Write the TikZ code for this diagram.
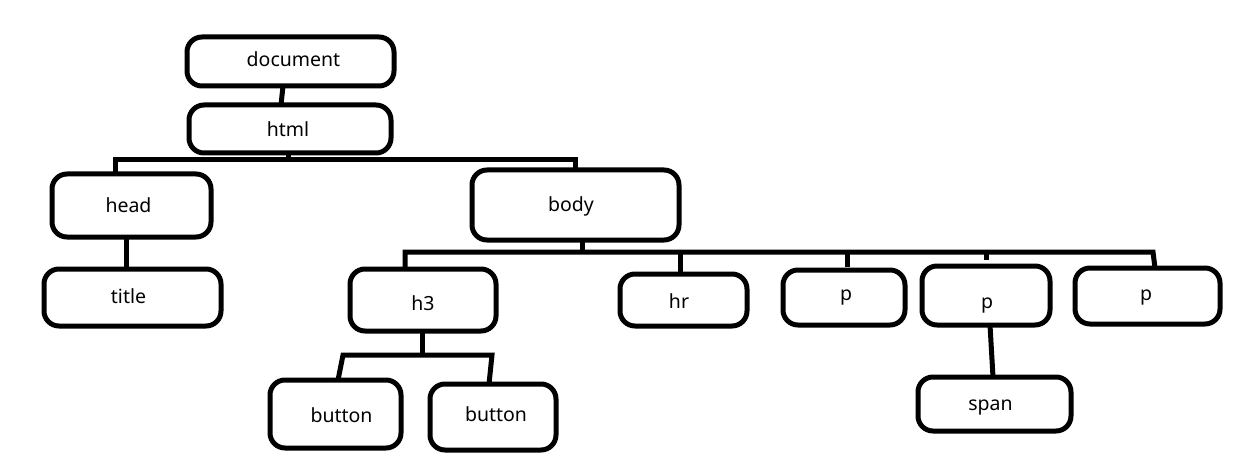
\documentclass[tikz,border=0pt]{standalone}
\usepackage{fontspec}
\setmainfont{Noto Sans}
\begin{document}
\begin{tikzpicture}[x=1pt,y=-1pt,
  box/.style={draw=black, line width=5pt, rounded corners=15pt, inner sep=0pt, outer sep=0pt, fill=none},
  lbl/.style={anchor=base, inner sep=0pt, font=\fontsize{19.5pt}{23pt}\selectfont},
  conn/.style={draw=black, line width=5pt, line join=miter}]
\useasboundingbox[fill=white] (0,0) rectangle (1248,476);
% boxes
\node[box, minimum width=207pt, minimum height=49pt] (doc)   at (290.5,61.5) {};
\node[box, minimum width=202pt, minimum height=48pt] (html)  at (290,129) {};
\node[box, minimum width=159pt, minimum height=63pt] (head)  at (131.5,205.5) {};
\node[box, minimum width=177pt, minimum height=57pt] (title) at (132.5,297.5) {};
\node[box, minimum width=207pt, minimum height=70pt] (body)  at (575.5,205) {};
\node[box, minimum width=146pt, minimum height=62pt] (h3)    at (423,300) {};
\node[box, minimum width=127pt, minimum height=52pt] (hr)    at (683.5,300) {};
\node[box, minimum width=122pt, minimum height=55pt] (pa)    at (844,297.5) {};
\node[box, minimum width=128pt, minimum height=59pt] (pb)    at (986,295.5) {};
\node[box, minimum width=145pt, minimum height=56pt] (pc)    at (1147.5,296) {};
\node[box, minimum width=131pt, minimum height=68pt] (ba)    at (335.5,414) {};
\node[box, minimum width=126pt, minimum height=66pt] (bb)    at (493,417) {};
\node[box, minimum width=153pt, minimum height=54pt] (span)  at (994.5,404) {};
% labels
\node[lbl] (tdoc)   at (293.5,66.7) {document};
\node[lbl] (thtml)  at (288,136.7) {html};
\node[lbl] (thead)  at (128.5,212.7) {head};
\node[lbl] (ttitle) at (128.5,303.3) {title};
\node[lbl] (tbody)  at (571,211.7) {body};
\node[lbl] (th3)    at (423,310) {h3};
\node[lbl] (thr)    at (679,308) {hr};
\node[lbl] (tpa)    at (846,300) {p};
\node[lbl] (tpb)    at (987,308.4) {p};
\node[lbl] (tpc)    at (1146,300) {p};
\node[lbl] (tba)    at (341.5,422.7) {button};
\node[lbl] (tbb)    at (496,421.7) {button};
\node[lbl] (tspan)  at (990.5,410) {span};
% junction coordinates
\coordinate (hbL) at (115,160);
\coordinate (hbM) at (288,160);
\coordinate (hbR) at (575,160);
\coordinate (bbL) at (405,252);
\coordinate (bbM) at (582,252);
\coordinate (bbR) at (1153,252);
\coordinate (h3L) at (343,355);
\coordinate (h3M) at (422,355);
\coordinate (h3R) at (492,355);
% connectors
\draw[conn] ([xshift=-7.5pt]doc.south) -- ([xshift=-9pt]html.north);
\draw[conn] (html.south -| hbM) -- (hbM);
\draw[conn] (head.north -| hbL) -- (hbL) -- (hbR) -- (body.north -| hbR);
\draw[conn] ([xshift=-5.5pt]head.south) -- ([xshift=-6.5pt]title.north);
\draw[conn] (body.south -| bbM) -- ([yshift=2pt]bbM);
\draw[conn] (h3.north -| bbL) -- (bbL) -- (bbR) -- ([xshift=7.5pt]pc.north);
\draw[conn] (bbM -| 680,0) -- ([xshift=-3.5pt]hr.north);
\draw[conn] (bbM -| 847,0) -- ([xshift=3pt,yshift=3pt]pa.north);
\draw[conn] (bbM -| 986,0) -- ([yshift=6pt]pb.north);
\draw[conn] ([xshift=-1pt]h3.south) -- (h3M);
\draw[conn] ([xshift=2.5pt]ba.north) -- (h3L) -- (h3R) -- ([xshift=-4pt]bb.north);
\draw[conn] ([xshift=4pt]pb.south) -- ([xshift=-1.5pt]span.north);
\end{tikzpicture}
\end{document}
